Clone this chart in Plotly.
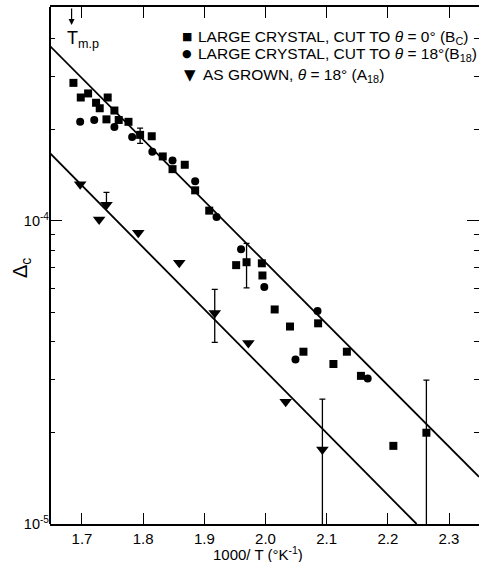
import plotly.graph_objects as go
import numpy as np

# ---- data ----
sq_x = [1.686, 1.698, 1.710, 1.723, 1.729, 1.742, 1.753, 1.740, 1.760, 1.776,
        1.795, 1.814, 1.832, 1.848, 1.868, 1.885, 1.908, 1.952, 1.969, 1.994,
        1.995, 2.015, 2.040, 2.062, 2.086, 2.111, 2.133, 2.156, 2.209, 2.263]
sq_y = [2.85e-4, 2.55e-4, 2.63e-4, 2.45e-4, 2.35e-4, 2.55e-4, 2.31e-4, 2.16e-4, 2.15e-4, 2.12e-4,
        1.92e-4, 1.90e-4, 1.63e-4, 1.48e-4, 1.53e-4, 1.26e-4, 1.08e-4, 7.14e-5, 7.30e-5, 7.24e-5,
        6.60e-5, 5.10e-5, 4.48e-5, 3.70e-5, 4.59e-5, 3.37e-5, 3.70e-5, 3.08e-5, 1.81e-5, 2.00e-5]
sq_err_plus = [0, 0, 0, 0, 0, 0, 0, 0, 0, 0,
               1.0e-5, 0, 0, 0, 0, 0, 0, 0, 1.12e-5, 0,
               0, 0, 0, 0, 0, 0, 0, 0, 0, 0.98e-5]
sq_err_minus = [0, 0, 0, 0, 0, 0, 0, 0, 0, 0,
                1.2e-5, 0, 0, 0, 0, 0, 0, 0, 1.29e-5, 0,
                0, 0, 0, 0, 0, 0, 0, 0, 0, 1.99e-5]

ci_x = [1.697, 1.720, 1.753, 1.782, 1.815, 1.848, 1.885, 1.920, 1.960, 1.998,
        2.049, 2.085, 2.167]
ci_y = [2.12e-4, 2.15e-4, 2.04e-4, 1.89e-4, 1.69e-4, 1.58e-4, 1.35e-4, 1.03e-4, 8.06e-5, 6.05e-5,
        3.49e-5, 5.04e-5, 3.02e-5]

tr_x = [1.697, 1.728, 1.740, 1.792, 1.859, 1.917, 1.972, 2.033, 2.093]
tr_y = [1.32e-4, 1.01e-4, 1.13e-4, 9.13e-5, 7.27e-5, 4.96e-5, 3.95e-5, 2.53e-5, 1.76e-5]
tr_err_plus = [0, 0, 1.1e-5, 0, 0, 0.98e-5, 0, 0, 0.82e-5]
tr_err_minus = [0, 0, 0, 0, 0, 0.99e-5, 0, 0, 1.75e-5]

# fitted lines (end points)
upper_line_x = [1.6477, 2.349]
upper_line_y = [3.77e-4, 1.43e-5]
lower_line_x = [1.6477, 2.247]
lower_line_y = [1.67e-4, 1.0e-5]

tm_x = 1.683  # melting point marker

x_ticks = [1.7, 1.8, 1.9, 2.0, 2.1, 2.2, 2.3]
x_ticklabels = ["1.7", "1.8", "1.9", "2.0", "2.1", "2.2", "2.3"]
y_major = [1e-5, 1e-4]
y_major_labels = ["10<sup>-5</sup>", "10<sup>-4</sup>"]
y_minor = [2e-5, 3e-5, 4e-5, 5e-5, 6e-5, 7e-5, 8e-5, 9e-5, 2e-4, 3e-4, 4e-4]

legend_labels = [
    "LARGE CRYSTAL, CUT TO <i>θ</i> = 0° (B<sub>C</sub>)",
    "LARGE CRYSTAL, CUT TO <i>θ</i> = 18°(B<sub>18</sub>)",
    "AS GROWN, <i>θ</i> = 18° (A<sub>18</sub>)",
]

FONT = "Liberation Sans, Arial, Helvetica, sans-serif"
W, H = 479, 562
L, R, T, B = 50, 0, 7, 38

def px(xp):
    return (xp - L) / (W - L - R)

def py(yp):
    return (H - B - yp) / (H - B - T)

fig = go.Figure()

# lines
fig.add_trace(go.Scatter(x=upper_line_x, y=upper_line_y, mode="lines",
                         line=dict(color="black", width=1.8), showlegend=False, hoverinfo="skip"))
fig.add_trace(go.Scatter(x=lower_line_x, y=lower_line_y, mode="lines",
                         line=dict(color="black", width=1.8), showlegend=False, hoverinfo="skip"))

err_style = dict(type="data", symmetric=False, color="black", thickness=1.3, width=3)

fig.add_trace(go.Scatter(x=sq_x, y=sq_y, mode="markers", name=legend_labels[0],
                         marker=dict(symbol="square", size=8, color="black"),
                         error_y=dict(array=sq_err_plus, arrayminus=sq_err_minus, **err_style),
                         showlegend=False))
fig.add_trace(go.Scatter(x=ci_x, y=ci_y, mode="markers", name=legend_labels[1],
                         marker=dict(symbol="circle", size=8, color="black"),
                         showlegend=False))
fig.add_trace(go.Scatter(x=tr_x, y=tr_y, mode="markers", name=legend_labels[2],
                         marker=dict(symbol="triangle-down", size=11, color="black"),
                         error_y=dict(array=tr_err_plus, arrayminus=tr_err_minus, **err_style),
                         showlegend=False))

annotations = []
# legend (as text)
leg_rows = [(36.7, 186.7, 196.0, "■", 11), (53.3, 186.7, 196.0, "●", 11), (75.0, 190.0, 201.0, "▼", 15)]
for (yy, sx, tx, sym, ss), lab in zip(leg_rows, legend_labels):
    annotations.append(dict(xref="paper", yref="paper", x=px(sx), y=py(yy), text=sym,
                            showarrow=False, xanchor="center", yanchor="middle",
                            font=dict(size=ss, color="black", family="DejaVu Sans")))
    annotations.append(dict(xref="paper", yref="paper", x=px(tx), y=py(yy + 1), text=lab,
                            showarrow=False, xanchor="left", yanchor="middle",
                            font=dict(size=15.5, color="black", family=FONT)))

# T m.p arrow and label
annotations.append(dict(xref="x", yref="paper", x=tm_x, y=py(25), ax=0, ay=-18,
                        text="", showarrow=True, arrowhead=2, arrowsize=1, arrowwidth=1.2,
                        arrowcolor="black", standoff=0))
annotations.append(dict(xref="x", yref="paper", x=tm_x - 0.01, y=py(26), text="T<sub>m.p</sub>",
                        showarrow=False, xanchor="left", yanchor="top",
                        font=dict(size=18, color="black", family=FONT)))
# axis titles
annotations.append(dict(xref="paper", yref="paper", x=px(258), y=py(553), text="1000/ T (°K<sup>-1</sup>)",
                        showarrow=False, xanchor="center", yanchor="middle",
                        font=dict(size=15, color="black", family=FONT)))
annotations.append(dict(xref="paper", yref="paper", x=px(21), y=py(268), text="Δ<sub>c</sub>",
                        textangle=-90, showarrow=False, xanchor="center", yanchor="middle",
                        font=dict(size=20, color="black", family=FONT)))

fig.update_layout(
    width=W, height=H,
    margin=dict(l=L, r=R, t=T, b=B, pad=0),
    paper_bgcolor="white", plot_bgcolor="white",
    font=dict(family=FONT, size=15, color="black"),
    annotations=annotations,
    showlegend=False,
    shapes=[dict(type="line", xref="paper", yref="paper", x0=0, x1=0, y0=0, y1=1,
                 line=dict(color="black", width=2), layer="above")],
)
fig.update_xaxes(range=[1.6477, 2.349], tickvals=x_ticks, ticktext=x_ticklabels,
                 ticks="inside", ticklen=11, tickwidth=1.3, tickcolor="black",
                 showline=True, linecolor="black", linewidth=2, mirror="allticks",
                 showgrid=False, zeroline=False, tickfont=dict(size=15))
fig.update_yaxes(type="log", range=[-5, np.log10(5.07e-4)], tickvals=y_major, ticktext=y_major_labels,
                 ticks="inside", ticklen=12, tickwidth=1.3, tickcolor="black",
                 minor=dict(tickvals=y_minor, ticks="inside", ticklen=5, tickwidth=1.3, tickcolor="black",
                            showgrid=False),
                 showline=False, mirror="allticks",
                 showgrid=False, zeroline=False, tickfont=dict(size=14.5))

fig.write_html("out.html", config={"displayModeBar": False},
               post_script="document.body.style.margin='0';document.body.style.overflow='hidden';")
